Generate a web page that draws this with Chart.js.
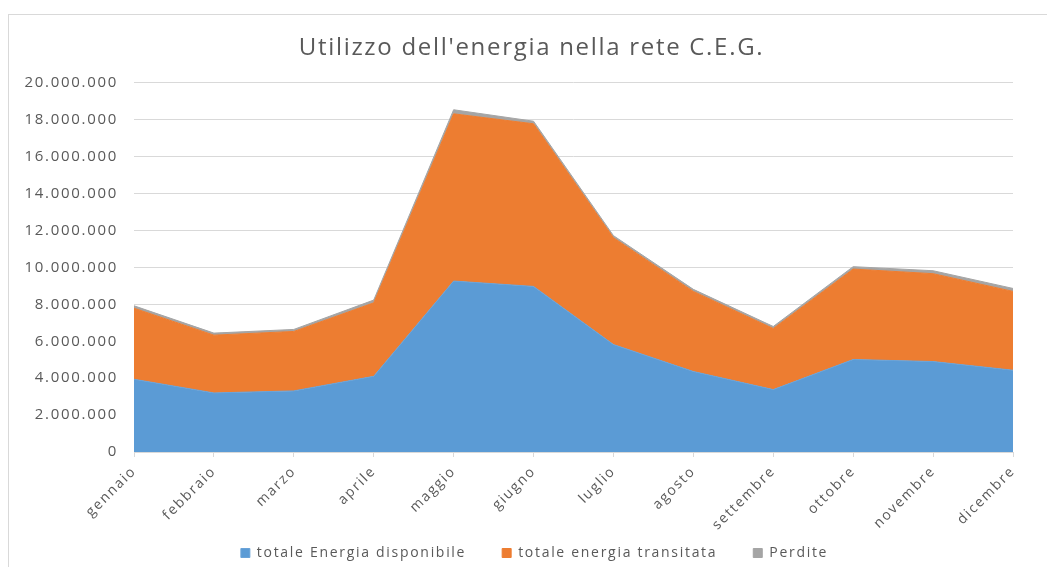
<!DOCTYPE html>
<html>
<head>
<meta charset="utf-8">
<script src="https://cdn.jsdelivr.net/npm/chart.js@4"></script>
<style>
body{margin:0;background:#fff}
#wrap{position:relative;width:1047px;height:567px}
#frame{position:absolute;left:8px;top:14px;right:-2px;bottom:-2px;border-left:1px solid #d9d9d9;border-top:1px solid #d9d9d9}
canvas{position:absolute;left:0;top:0}
</style>
</head>
<body>
<div id="wrap">
<div id="frame"></div>
<canvas id="chart" width="1047" height="567"></canvas>
</div>
<script>
let months=["gennaio","febbraio","marzo","aprile","maggio","giugno","luglio","agosto","settembre","ottobre","novembre","dicembre"]

let disponibile=[3940000,3200000,3310000,4100000,9260000,8970000,5820000,4360000,3380000,5010000,4900000,4430000]
let transitata=[3850000,3130000,3220000,3980000,9060000,8810000,5790000,4340000,3310000,4900000,4760000,4270000]
let perdite=[130000,110000,110000,150000,220000,140000,110000,110000,110000,130000,160000,160000]

let font="'Open Sans', sans-serif"
let grey="#595959"

function fmt(v){
return String(v).replace(/\B(?=(\d{3})+(?!\d))/g,".")
}

// the original text is wider than Open Sans, so spread the letters a bit
let spacing={
id:"spacing",
beforeLayout(chart){chart.ctx.letterSpacing="1.7px"},
beforeDraw(chart){chart.ctx.letterSpacing="1.7px"}
}

// title and legend sit centred on the whole frame, month labels may run into the legend gap
let shift={
id:"shift",
afterLayout(chart){
chart.titleBlock.left+=20
chart.titleBlock.right+=20
chart.legend.left+=23
chart.legend.right+=23
chart.scales.x.bottom=chart.height
}
}

let ctx=document.getElementById("chart").getContext("2d")

let chart=new Chart(ctx,{
type:"line",
data:{
labels:months,
datasets:[
{label:"totale Energia disponibile",data:disponibile,backgroundColor:"#5b9bd5",borderColor:"#6aa3d8",borderWidth:1,fill:"origin",pointRadius:0},
{label:"totale energia transitata",data:transitata,backgroundColor:"#ed7d31",borderColor:"#ed7d31",borderWidth:1,fill:"-1",pointRadius:0},
{label:"Perdite",data:perdite,backgroundColor:"#a5a5a5",borderColor:"#a5a5a5",borderWidth:1,fill:"-1",pointRadius:0}
]
},
options:{
responsive:false,
animation:false,
layout:{padding:{left:10,right:34,top:0,bottom:-3}},
plugins:{
title:{display:true,text:"Utilizzo dell'energia nella rete C.E.G.",color:grey,font:{family:font,size:24,weight:"normal"},padding:{top:34,bottom:20}},
legend:{position:"bottom",labels:{color:grey,font:{family:font,size:14},boxWidth:9,boxHeight:9,padding:36}},
tooltip:{enabled:false}
},
scales:{
x:{
offset:false,
afterFit:function(s){s.height=58},
grid:{drawOnChartArea:false,drawTicks:true,tickLength:5,color:"#d9d9d9"},
border:{color:"#d9d9d9"},
ticks:{color:grey,font:{family:font,size:14},minRotation:45,maxRotation:45,padding:6}
},
y:{
stacked:true,
min:0,
max:20000000,
afterFit:function(s){s.width=124},
grid:{color:"#d9d9d9",drawTicks:false},
border:{display:false},
ticks:{stepSize:2000000,color:grey,font:{family:font,size:15},padding:16,callback:function(v){return fmt(v)}}
}
}
},
plugins:[spacing,shift]
})
</script>
</body>
</html>
